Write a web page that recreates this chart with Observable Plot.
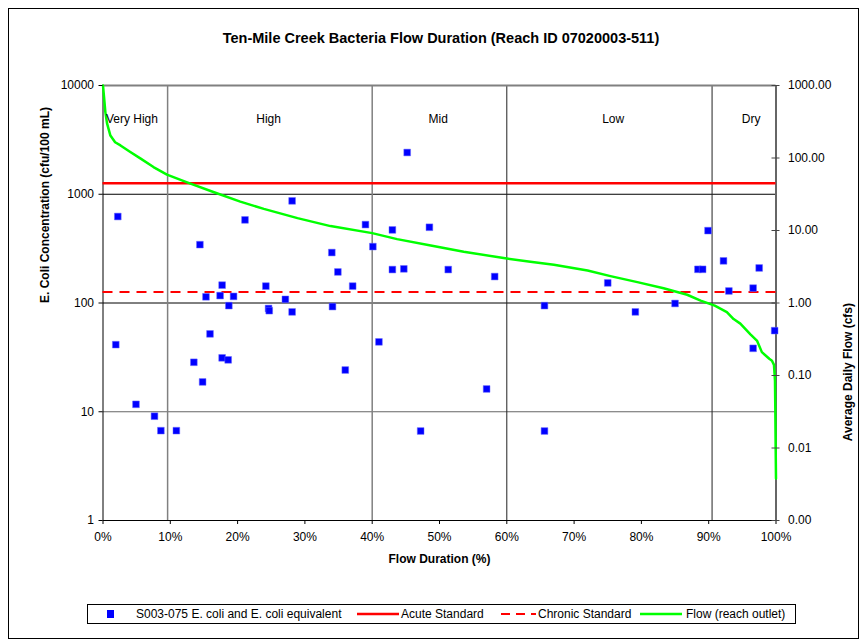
<!DOCTYPE html>
<html><head><meta charset="utf-8">
<script src="https://cdn.jsdelivr.net/npm/d3@7"></script>
<script src="https://cdn.jsdelivr.net/npm/@observablehq/plot@0.6"></script>
<style>
body{margin:0;background:#fff;font-family:"Liberation Sans",Arial,sans-serif;color:#000;}
#frame{position:absolute;left:8px;top:8px;width:851px;height:631px;border:1px solid #000;box-sizing:border-box;}
#title{position:absolute;top:30px;left:0;width:882px;text-align:center;font-weight:bold;font-size:14.5px;}
#chart{position:absolute;left:0;top:60px;}
#legend{position:absolute;left:87px;top:604px;width:709px;height:20px;border:1px solid #000;box-sizing:border-box;font-size:12px;}
#legend .it{position:absolute;top:0;height:18px;line-height:18px;white-space:nowrap;}
</style>
</head><body>
<div id="frame"></div>
<div id="title">Ten-Mile Creek Bacteria Flow Duration (Reach ID 07020003-511)</div>
<div id="chart"></div>
<div id="legend"></div>
<script>
// ---- data ----
const ecoliPct = [2.2,1.9,4.9,7.65,8.6,10.9,13.5,14.4,14.8,15.3,15.9,17.4,17.7,17.7,18.6,18.7,19.4,21.1,24.2,24.6,24.7,27.1,28.1,28.1,34.0,34.1,34.9,36.0,37.1,39.0,40.1,41.0,43.0,43.0,44.7,45.2,47.2,48.5,51.3,57.0,58.2,65.6,65.6,75.0,79.1,85.0,88.4,89.1,89.9,92.2,93.0,96.6,96.6,97.5,99.8];
const ecoliVal = [624,41.4,11.7,9.1,6.7,6.7,28.5,344,18.8,114,52,117,146,31.3,30,94.6,115,581,143,89,85,108,869,82.8,291,92.7,193,24.2,143,526,330,43.9,470,203,206,2420,6.65,497,203,16.2,175,94.6,6.65,153,82.8,99,204,204,463,244,129,137,38.3,210,55.7];
const flowPct = [0,0.15,0.35,0.6,1.1,1.8,2.6,4,5.6,7.5,9.5,12.5,16.5,20.4,23.9,28.9,33.8,40,43.7,48.7,53.6,60,63.5,67,72,75.4,79.4,83.3,86.8,88.8,90.9,92.7,93.7,94.7,96.2,97.2,97.9,99.0,99.4,99.7,99.85,99.9,99.95,100];
const flowCfs = [1000,700,430,300,204,165,149,122,98,75,59,46,33.7,25,19.9,14.8,11.5,9.2,7.6,6.2,5.1,4.1,3.7,3.37,2.8,2.35,1.94,1.6,1.3,1.08,0.92,0.75,0.6,0.52,0.37,0.30,0.21,0.17,0.16,0.14,0.085,0.033,0.0102,0.0038];
const acuteStd = [1260];
const chronicStd = [126];
const regionNames = ["Very High","High","Mid","Low","Dry"];
const regionLabelPct = [4.3,24.6,49.8,75.8,96.3];
const regionBoundsGray = [9.6,40];
const regionBoundsBlack = [60,90.5];
const xTicks = [0,10,20,30,40,50,60,70,80,90,100];
const leftTicks = [1,10,100,1000,10000];
const rightTicks = [0.001,0.01,0.1,1,10,100,1000];
const seriesNames = ["S003-075 E. coli and E. coli equivalent","Acute Standard","Chronic Standard","Flow (reach outlet)"];

// right axis (cfs, 0.001..1000 log) mapped onto left axis (1..10000 log)
const toLeft = f => Math.pow(10, (Math.log10(f) + 3) * 2 / 3);

const ecoli = ecoliPct.map((p, i) => ({p, v: ecoliVal[i]}));
const flow = flowPct.map((p, i) => ({p, v: toLeft(flowCfs[i])}));
const regions = regionNames.map((n, i) => ({n, p: regionLabelPct[i]}));
const rightT = rightTicks.map(f => ({f, v: toLeft(f)}));

const chart = Plot.plot({
  width: 867, height: 520,
  marginTop: 25, marginBottom: 60, marginLeft: 102.5, marginRight: 91.5,
  style: {fontFamily: '"Liberation Sans", Arial, sans-serif', fontSize: "12px", color: "#000", background: "transparent"},
  x: {domain: [0, 100], axis: null},
  y: {type: "log", domain: [1, 10000], axis: null},
  marks: [
    Plot.ruleY([1000, 100], {stroke: "#000", strokeWidth: 1}),
    Plot.ruleY([10], {stroke: "#666", strokeWidth: 1}),
    Plot.ruleX(regionBoundsGray, {stroke: "#808080", strokeWidth: 1.5}),
    Plot.ruleX(regionBoundsBlack, {stroke: "#222", strokeWidth: 1}),
    Plot.ruleY([10000], {stroke: "#808080", strokeWidth: 2}),
    Plot.ruleX([100], {stroke: "#666", strokeWidth: 2}),
    Plot.ruleX([0], {stroke: "#000", strokeWidth: 1}),
    Plot.ruleY([1], {stroke: "#000", strokeWidth: 1}),
    Plot.ruleY(acuteStd, {stroke: "#ff0000", strokeWidth: 2.5}),
    Plot.ruleY(chronicStd, {stroke: "#ff0000", strokeWidth: 2, strokeDasharray: "10,7"}),
    Plot.line(flow, {x: "p", y: "v", stroke: "#00ff00", strokeWidth: 2.5}),
    Plot.dot(ecoli, {x: "p", y: "v", symbol: "square", r: 3.8, fill: "#0000ff", stroke: "#6a6aff", strokeWidth: 0.5}),
    Plot.text(regions, {x: "p", frameAnchor: "top", dy: 29, text: "n", fontSize: 12}),
    Plot.axisX(xTicks, {anchor: "bottom", tickSize: 4, tickPadding: 8, tickFormat: d => d + "%", label: null, fontSize: 12}),
    Plot.axisY(leftTicks, {anchor: "left", tickSize: 4, tickPadding: 5, tickFormat: d => String(d), label: null, fontSize: 12}),
    // right (flow) axis: ticks crossing the axis line and 2-decimal labels
    Plot.ruleY(rightT, {y: "v", x1: 100, x2: 100, insetLeft: -4, insetRight: -4, stroke: "#444", strokeWidth: 1}),
    Plot.text(rightT, {y: "v", frameAnchor: "right", dx: 12, textAnchor: "start", text: d => d.f.toFixed(2), fontSize: 12}),
    Plot.text(["Flow Duration (%)"], {frameAnchor: "bottom", dy: 42, text: d => d, fontWeight: "bold", fontSize: 12}),
    Plot.text(["E. Coli Concentration (cfu/100 mL)"], {frameAnchor: "left", dx: -58, rotate: -90, text: d => d, fontWeight: "bold", fontSize: 12}),
    Plot.text(["Average Daily Flow (cfs)"], {frameAnchor: "right", dx: 72, rotate: -90, text: d => d, fontWeight: "bold", fontSize: 12})
  ]
});
document.getElementById("chart").appendChild(chart);

// legend
const lg = document.getElementById("legend");
const items = [
  {left: 0, w: 46, sw: '<rect x="19" y="5" width="7" height="8" fill="#0000ff"/>', text: seriesNames[0]},
  {left: 269, w: 42, sw: '<line x1="0" y1="9" x2="42" y2="9" stroke="#ff0000" stroke-width="2.5"/>', text: seriesNames[1]},
  {left: 406, w: 42, sw: '<line x1="0" y1="9" x2="40" y2="9" stroke="#ff0000" stroke-width="2" stroke-dasharray="9,6" transform="translate(7,0)"/>', text: seriesNames[2]},
  {left: 552, w: 44, sw: '<line x1="0" y1="9" x2="42" y2="9" stroke="#00ff00" stroke-width="2.5"/>', text: seriesNames[3]}
];
items.forEach(it => {
  const d = document.createElement("div");
  d.className = "it";
  d.style.left = it.left + "px";
  d.innerHTML = `<svg width="${it.w}" height="18" style="vertical-align:top">${it.sw}</svg><span style="margin-left:2px">${it.text}</span>`;
  lg.appendChild(d);
});
</script>
</body></html>
